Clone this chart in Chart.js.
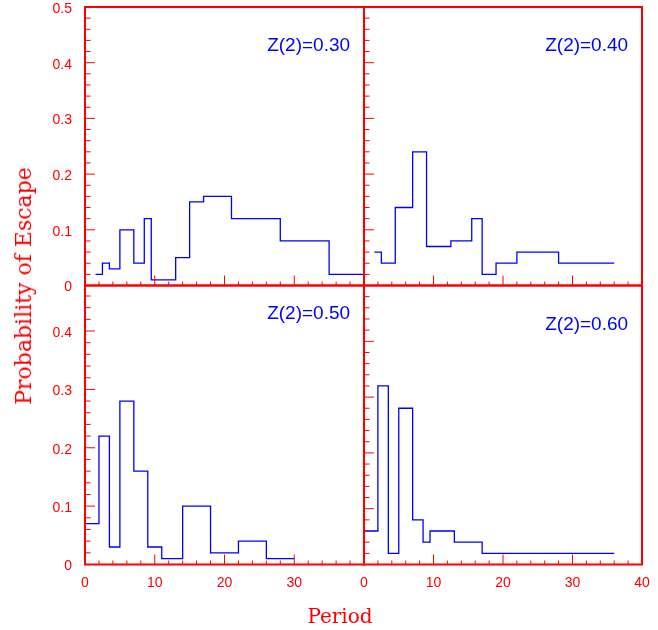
<!DOCTYPE html>
<html>
<head>
<meta charset="utf-8">
<script src="https://cdn.jsdelivr.net/npm/chart.js@4.4.0/dist/chart.umd.min.js"></script>
<style>
html, body { margin: 0; padding: 0; background: #fff; }
#wrap { position: relative; width: 658px; height: 630px; overflow: hidden; }
#wrap canvas { position: absolute; left: 0; top: 0; }
.ttl { position: absolute; color: #ff0000; font-family: "DejaVu Serif", serif; white-space: nowrap; line-height: 1; }
#ytitle { left: 24px; top: 285.5px; font-size: 22px; transform: translate(-50%, -50%) rotate(-90deg); }
#xtitle { left: 340px; top: 606px; font-size: 20px; transform: translateX(-50%); }
</style>
</head>
<body>
<div id="wrap">
  <canvas id="c1" width="658" height="630"></canvas>
  <canvas id="c2" width="658" height="630"></canvas>
  <canvas id="c3" width="658" height="630"></canvas>
  <canvas id="c4" width="658" height="630"></canvas>
  <div class="ttl" id="ytitle">Probability of Escape</div>
  <div class="ttl" id="xtitle">Period</div>
</div>
<script>
// bin edges (period) and escape probability, one pair per panel
var p1x = [1.5, 2.5, 3.5, 5, 7, 8.5, 9.5, 13, 15, 17, 21, 28, 35, 40];
var p1y = [0.02, 0.04, 0.03, 0.10, 0.04, 0.12, 0.01, 0.05, 0.15, 0.16, 0.12, 0.08, 0.02, 0.02];
var p2x = [1.5, 2.5, 4.5, 7, 9, 12.5, 15.5, 17, 19, 22, 28, 36];
var p2y = [0.06, 0.04, 0.14, 0.24, 0.07, 0.08, 0.12, 0.02, 0.04, 0.06, 0.04, 0.04];
var p3x = [0, 2, 3.5, 5, 7, 9, 11, 14, 18, 22, 26, 30];
var p3y = [0.07, 0.22, 0.03, 0.28, 0.16, 0.03, 0.01, 0.10, 0.02, 0.04, 0.01, 0.01];
var p4x = [0, 2, 3.5, 5, 7, 8.5, 9.5, 13, 17, 36];
var p4y = [0.06, 0.32, 0.02, 0.28, 0.08, 0.04, 0.06, 0.04, 0.02, 0.02];

var panelLabels = ["Z(2)=0.30", "Z(2)=0.40", "Z(2)=0.50", "Z(2)=0.60"];
var yTicksTop = [0, 0.1, 0.2, 0.3, 0.4, 0.5];
var yTicksBottom = [0, 0.1, 0.2, 0.3, 0.4];
var xTicksLeft = [0, 10, 20, 30];
var xTicksRight = [0, 10, 20, 30, 40];

var red = '#ff0000';
var blue = '#0000ff';
var W = 658, H = 630;
var yAxisW = 85, xAxisH = 30;

// panel frame, inward ticks and the Z(2) label
var frame = {
  id: 'frame',
  afterDatasetsDraw: function(chart, args, opts) {
    var ctx = chart.ctx, a = chart.chartArea;
    var xs = chart.scales.x, ys = chart.scales.y;
    ctx.save();
    ctx.strokeStyle = red;
    ctx.lineWidth = 1;
    ctx.beginPath();
    for (var i = 1; i < 20; i++) {
      var px = xs.getPixelForValue(i * 2);
      var len = (i % 5 == 0) ? 10 : 4;
      ctx.moveTo(px, a.bottom);
      ctx.lineTo(px, a.bottom - len);
    }
    var n = Math.floor(ys.max / 0.02 + 1e-6);
    for (var j = 1; j <= n; j++) {
      var py = ys.getPixelForValue(j * 0.02);
      var len2 = (j % 5 == 0) ? 10 : 5.5;
      ctx.moveTo(a.left, py);
      ctx.lineTo(a.left + len2, py);
    }
    ctx.stroke();
    ctx.lineWidth = 2;
    ctx.strokeRect(a.left, a.top, a.right - a.left, a.bottom - a.top);
    ctx.fillStyle = blue;
    ctx.font = '19px "Liberation Sans"';
    ctx.textAlign = 'right';
    ctx.textBaseline = 'middle';
    ctx.fillText(opts.label, xs.getPixelForValue(38), ys.getPixelForValue(0.43));
    ctx.restore();
  }
};

function makePanel(id, px, py, label, box, yMax, yTicks, xTicks) {
  var showY = yTicks != null, showX = xTicks != null;
  var pts = px.map(function(x, i) { return {x: x, y: py[i]}; });
  return new Chart(document.getElementById(id), {
    type: 'line',
    data: {
      datasets: [{
        data: pts,
        stepped: true,
        borderColor: blue,
        borderWidth: 1.3,
        pointRadius: 0,
        fill: false
      }]
    },
    plugins: [frame],
    options: {
      responsive: false,
      animation: false,
      devicePixelRatio: 1,
      layout: {
        autoPadding: false,
        padding: {
          left: showY ? box[0] - yAxisW : box[0],
          top: box[1],
          right: W - box[2],
          bottom: showX ? H - box[3] - xAxisH : H - box[3]
        }
      },
      plugins: {
        legend: { display: false },
        tooltip: { enabled: false },
        frame: { label: label }
      },
      scales: {
        x: {
          type: 'linear', min: 0, max: 40, display: showX,
          grid: { display: false, drawTicks: false },
          border: { display: false },
          ticks: {
            color: red, padding: 10, maxRotation: 0, autoSkip: false,
            font: { family: 'Liberation Sans', size: 14 },
            callback: function(v) { return String(v); }
          },
          afterBuildTicks: function(s) { s.ticks = (xTicks || []).map(function(v) { return {value: v}; }); },
          afterFit: function(s) { s.height = showX ? xAxisH : 0; s.paddingLeft = 0; s.paddingRight = 0; }
        },
        y: {
          type: 'linear', min: 0, max: yMax, display: showY,
          grid: { display: false, drawTicks: false },
          border: { display: false },
          ticks: {
            color: red, padding: 13, labelOffset: 2, autoSkip: false,
            font: { family: 'Liberation Sans', size: 14 },
            callback: function(v) { return String(v); }
          },
          afterBuildTicks: function(s) { s.ticks = (yTicks || []).map(function(v) { return {value: v}; }); },
          afterFit: function(s) { s.width = showY ? yAxisW : 0; s.paddingTop = 0; s.paddingBottom = 0; }
        }
      }
    }
  });
}

makePanel('c1', p1x, p1y, panelLabels[0], [85, 7, 364, 285.5], 0.5, yTicksTop, null);
makePanel('c2', p2x, p2y, panelLabels[1], [364, 7, 642, 285.5], 0.5, null, null);
makePanel('c3', p3x, p3y, panelLabels[2], [85, 285.5, 364, 564.5], 0.478, yTicksBottom, xTicksLeft);
makePanel('c4', p4x, p4y, panelLabels[3], [364, 285.5, 642, 564.5], 0.5, null, xTicksRight);
</script>
</body>
</html>
